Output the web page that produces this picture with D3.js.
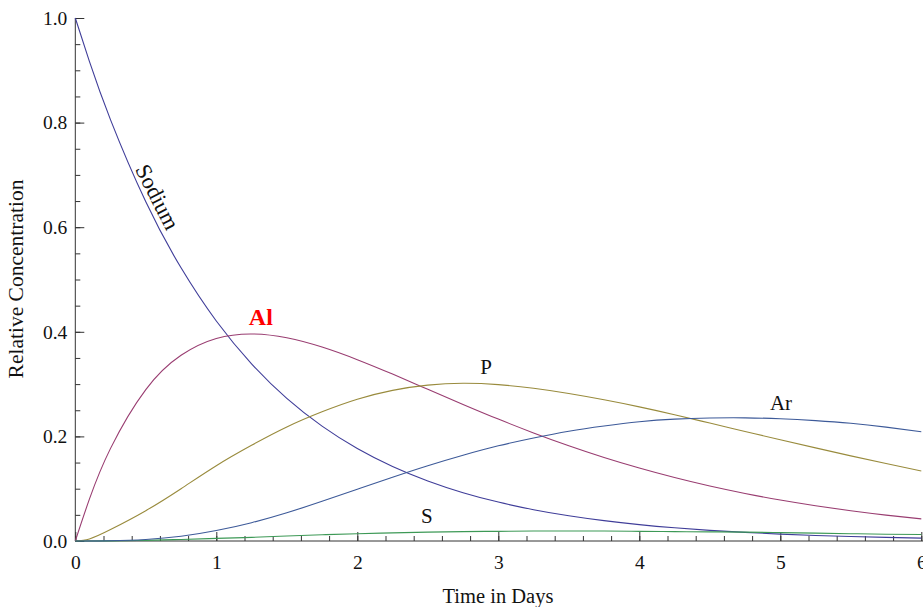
<!DOCTYPE html>
<html>
<head>
<meta charset="utf-8">
<script src="https://cdn.jsdelivr.net/npm/d3@7/dist/d3.min.js"></script>
<style>
  html, body { margin: 0; padding: 0; background: #fff; }
  svg { display: block; }
  text { font-family: "Liberation Serif", "Times New Roman", serif; }
</style>
</head>
<body>
<svg id="chart" width="923" height="607"></svg>
<script>
// Time axis (days)
const days = [0, 0.1, 0.25, 0.5, 0.75, 1, 1.25, 1.5, 1.75, 2, 2.25, 2.5, 2.75, 3,
              3.25, 3.5, 3.75, 4, 4.25, 4.5, 4.75, 5, 5.25, 5.5, 5.75, 6];

// Relative concentration of each nuclide
const sodium = [1.000, 0.9170, 0.8053, 0.6486, 0.5223, 0.4206, 0.3388, 0.2728, 0.2197, 0.1769,
                0.1425, 0.1148, 0.0924, 0.0744, 0.0599, 0.0483, 0.0389, 0.0313, 0.0252,
                0.0203, 0.0164, 0.0132, 0.0106, 0.0085, 0.0069, 0.0055];
const aluminium = [0, 0.0800, 0.1771, 0.2895, 0.3551, 0.3872, 0.3959, 0.3886, 0.3708, 0.3467,
                   0.3191, 0.2901, 0.2612, 0.2331, 0.2067, 0.1821, 0.1597, 0.1395, 0.1213,
                   0.1051, 0.0909, 0.0783, 0.0674, 0.0578, 0.0495, 0.0423];
const phosphorus = [0, 0.004, 0.022, 0.058, 0.100, 0.144, 0.183, 0.218, 0.247, 0.271,
                    0.288, 0.298, 0.3015, 0.299, 0.292, 0.282, 0.270, 0.2565, 0.2415,
                    0.2255, 0.2095, 0.1935, 0.1780, 0.1628, 0.1482, 0.1340];
const sulfur = [0, 0, 0.0003, 0.0012, 0.003, 0.005, 0.007, 0.0095, 0.012, 0.014,
                0.0155, 0.017, 0.018, 0.0185, 0.019, 0.019, 0.019, 0.0185, 0.018,
                0.0175, 0.017, 0.016, 0.015, 0.014, 0.013, 0.0125];
const argon = [0, 0, 0.0005, 0.003, 0.009, 0.020, 0.035, 0.054, 0.076, 0.099,
               0.122, 0.144, 0.164, 0.182, 0.197, 0.210, 0.220, 0.228, 0.233,
               0.2352, 0.2355, 0.2338, 0.2302, 0.2250, 0.2177, 0.2090];

// Tick values
const xMajorTicks = [0, 1, 2, 3, 4, 5, 6];
const xMinorTicks = d3.range(0, 6.001, 0.2);
const yMajorTicks = [0, 0.2, 0.4, 0.6, 0.8, 1.0];
const yMinorTicks = d3.range(0, 1.001, 0.05);

// Curve labels: [text, day, concentration]
const labelSodium = ["Sodium", 0.585, 0.658];
const labelAl = ["Al", 1.316, 0.413];
const labelP = ["P", 2.913, 0.319];
const labelAr = ["Ar", 5.005, 0.2505];
const labelS = ["S", 2.494, 0.0338];

const series = [
  { name: "Sodium", values: sodium, color: "#3f3d99" },
  { name: "Al", values: aluminium, color: "#993d71" },
  { name: "P", values: phosphorus, color: "#998b3d" },
  { name: "S", values: sulfur, color: "#3d9956" },
  { name: "Ar", values: argon, color: "#3d5a99" }
];

const svg = d3.select("#chart");
const x = d3.scaleLinear().domain([0, 6]).range([75.3, 921.3]);
const y = d3.scaleLinear().domain([0, 1]).range([541, 18]);

const axisColor = "#333";

// x axis: minor then major ticks pointing up into the plot
const gxMinor = svg.append("g").attr("transform", `translate(0,${y(0)})`)
  .call(d3.axisBottom(x).tickValues(xMinorTicks).tickSize(-5).tickSizeOuter(0).tickFormat(""));
const gx = svg.append("g").attr("transform", `translate(0,${y(0)})`)
  .call(d3.axisBottom(x).tickValues(xMajorTicks).tickSize(-9).tickSizeOuter(0)
    .tickPadding(14).tickFormat(d3.format("d")));

// y axis: ticks pointing right into the plot
const gyMinor = svg.append("g").attr("transform", `translate(${x(0)},0)`)
  .call(d3.axisLeft(y).tickValues(yMinorTicks).tickSize(-5).tickSizeOuter(0).tickFormat(""));
const gy = svg.append("g").attr("transform", `translate(${x(0)},0)`)
  .call(d3.axisLeft(y).tickValues(yMajorTicks).tickSize(-9).tickSizeOuter(0)
    .tickPadding(8).tickFormat(d3.format(".1f")));

[gxMinor, gx, gyMinor, gy].forEach(g => {
  g.selectAll("path.domain").remove();
  g.selectAll("line").attr("stroke", axisColor).attr("stroke-width", 1);
  g.selectAll("text").attr("fill", "#111").attr("font-size", 19.5)
    .attr("font-family", "'Liberation Serif', serif");
});

// axis lines
svg.append("line").attr("x1", x(0)).attr("x2", 923).attr("y1", y(0)).attr("y2", y(0))
  .attr("stroke", axisColor).attr("stroke-width", 1);
svg.append("line").attr("x1", x(0)).attr("x2", x(0)).attr("y1", y(0)).attr("y2", y(1))
  .attr("stroke", axisColor).attr("stroke-width", 1);

// curves
const line = d3.line().x((d, i) => x(days[i])).y(d => y(d)).curve(d3.curveNatural);
svg.append("g").selectAll("path").data(series).join("path")
  .attr("d", d => line(d.values))
  .attr("fill", "none")
  .attr("stroke", d => d.color)
  .attr("stroke-width", 1.1);

// axis titles
svg.append("text").attr("x", 498).attr("y", 603).attr("text-anchor", "middle")
  .attr("font-size", 20.5).attr("fill", "#111").text("Time in Days");
svg.append("text").attr("transform", "translate(23,279) rotate(-90)")
  .attr("text-anchor", "middle").attr("font-size", 21.5).attr("fill", "#111")
  .text("Relative Concentration");

// curve labels
svg.append("text")
  .attr("transform", `translate(${x(labelSodium[1])},${y(labelSodium[2])}) rotate(63)`)
  .attr("text-anchor", "middle").attr("dy", "0.35em").attr("font-size", 22.5).attr("fill", "#111")
  .text(labelSodium[0]);
svg.append("text").attr("x", x(labelAl[1])).attr("y", y(labelAl[2]))
  .attr("text-anchor", "middle").attr("font-size", 24).attr("font-weight", "bold")
  .attr("fill", "#ff0000").text(labelAl[0]);
[labelP, labelAr, labelS].forEach(l => {
  svg.append("text").attr("x", x(l[1])).attr("y", y(l[2]))
    .attr("text-anchor", "middle").attr("font-size", 21).attr("fill", "#111").text(l[0]);
});
</script>
</body>
</html>
